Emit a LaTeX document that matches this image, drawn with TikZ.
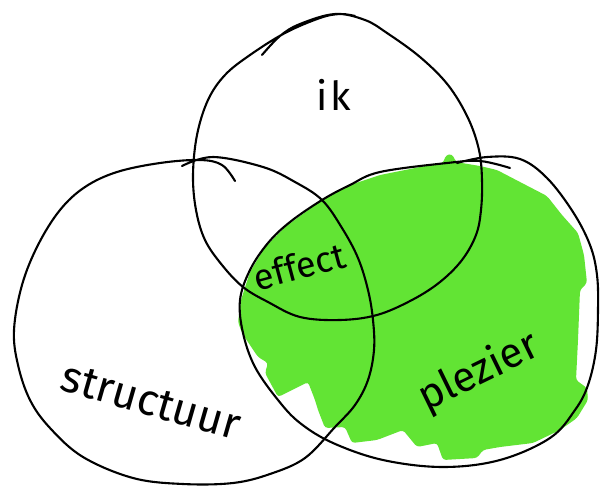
\documentclass[tikz,border=0pt]{standalone}
\usepackage{fontspec}
\newfontfamily\handfont{Fira Sans}
\definecolor{marker}{RGB}{98,228,52}
\tikzset{
  outline/.style={line width=2.1pt, line cap=round, line join=round, draw=black},
  handtext/.style={inner sep=0pt, text=black},
  blot/.style={fill=marker, draw=none, rounded corners=3pt}
}
\begin{document}
\begin{tikzpicture}[x=1pt, y=-1pt]
\useasboundingbox (0,0) rectangle (600,485);
\fill[white] (0,0) rectangle (600,485);
% green marker fill
\path[blot] (238,322) -- (241,300) -- (250,272) -- (265,247) -- (285,227) -- (322,200) -- (350,185) -- (380,175) -- (420,167) -- (443,163) -- (446,155) -- (452,154) -- (456,162) -- (480,166) -- (497,170) -- (520,182) -- (547,196) -- (562,215) -- (578,233) -- (584,255) -- (587,283) -- (580,290) -- (578,340) -- (576,380) -- (587,388) -- (588,400) -- (577,418) -- (560,430) -- (533,443) -- (500,447) -- (483,450) -- (477,458) -- (443,460) -- (437,443) -- (417,447) -- (403,430) -- (377,440) -- (352,443) -- (345,427) -- (325,428) -- (318,410) -- (315,400) -- (308,382) -- (278,397) -- (265,373) -- (268,363) -- (258,357) -- (250,345) -- (242,333) -- cycle;
% top circle (ik)
\draw[outline] plot[smooth, tension=0.6] coordinates {(262,55) (280,36) (300,24) (335,14) (365,20) (387,33) (420,57) (448,85) (468,118) (479,150) (482,180) (481,210) (476,235) (462,260) (440,282) (412,300) (377,315) (340,320) (300,317) (268,302) (243,287) (222,265) (205,240) (196,210) (193,175) (197,135) (208,100) (225,75) (250,55) (285,33) (320,18) (340,14) (355,16)};
% left circle (structuur)
\draw[outline] plot[smooth, tension=0.6] coordinates {(182,166) (213,157) (263,167) (295,182) (322,200) (342,228) (358,258) (368,290) (373,320) (374,350) (368,380) (355,405) (335,427) (305,458) (270,474) (233,483) (183,484) (133,478) (83,457) (50,428) (30,400) (18,365) (14,330) (22,285) (38,245) (60,210) (85,187) (117,172) (160,163) (200,160) (222,165) (235,181)};
% right circle (plezier)
\draw[outline] plot[smooth, tension=0.6] coordinates {(457,163) (487,157) (520,159) (547,178) (573,212) (590,245) (597,275) (598,310) (596,350) (588,385) (575,410) (550,438) (500,460) (443,467) (383,460) (333,443) (300,423) (278,400) (255,367) (243,333) (240,300) (250,270) (268,243) (290,222) (322,200) (350,185) (380,172) (447,163) (480,161) (510,168)};
% labels
\node[handtext, font=\handfont\fontsize{40}{40}\selectfont] (ik) at (334,95) {i\kern3pt k};
\node[handtext, font=\handfont\fontsize{36}{36}\selectfont, anchor=base, rotate=15] (effect) at (303,279) {effect};
\node[handtext, font=\handfont\fontsize{44}{44}\selectfont, anchor=base, rotate=-16] (structuur) at (147,415) {structuur};
\node[handtext, font=\handfont\fontsize{42}{42}\selectfont, anchor=base, rotate=26] (plezier) at (484,383) {plezier};
\end{tikzpicture}
\end{document}
